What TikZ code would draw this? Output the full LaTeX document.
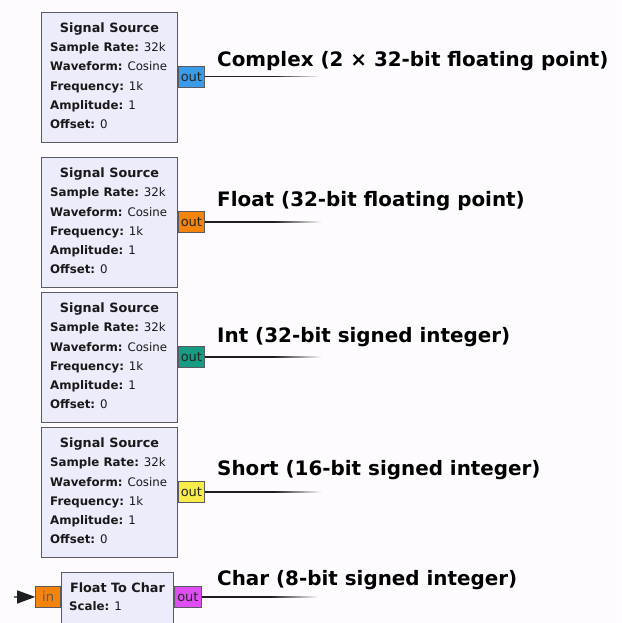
\documentclass[tikz,border=0pt]{standalone}
\usepackage{fontspec}
\setmainfont{DejaVu Sans}
\usetikzlibrary{arrows.meta}

\definecolor{bgc}{HTML}{FDFBFE}
\definecolor{blkfill}{HTML}{ECECFA}
\definecolor{blkedge}{HTML}{5A5A60}
\definecolor{cplx}{HTML}{3A9BE8}
\definecolor{flt}{HTML}{F5840C}
\definecolor{intc}{HTML}{179C84}
\definecolor{shrt}{HTML}{F7EC4A}
\definecolor{chr}{HTML}{DF4EF3}
\definecolor{wire}{HTML}{1E1E22}

\tikzset{
  blk/.style={draw=blkedge, fill=blkfill, line width=1pt, rectangle, inner sep=0pt},
  ttl/.style={anchor=base, inner sep=0pt, font=\fontsize{12.8}{14}\selectfont\bfseries, text=black!90},
  prm/.style={anchor=base west, inner sep=0pt, font=\fontsize{11.8}{13}\selectfont, text=black!90},
  port/.style={draw=blkedge, line width=0.8pt, rectangle, inner sep=0pt,
    minimum width=26pt, minimum height=21pt, font=\fontsize{13}{14}\selectfont, text=black!85},
  lbl/.style={anchor=base west, inner sep=0pt, font=\fontsize{19.9}{22}\selectfont\bfseries, text=black},
  wireline/.style={draw=wire, line width=1.2pt},
}

% Output wire: solid from the port, then fading out in short steps
\newcommand\fadewire[1]{% #1 port node
  \coordinate (#1m) at ([xshift=68pt]#1.east);
  \draw[wireline] (#1.east) -- (#1m);
  \foreach \k in {0,...,19}{
    \pgfmathsetmacro\shadeamt{100-5*\k}
    \draw[line width=1.2pt, draw=wire!\shadeamt!bgc]
      ([xshift=2.4*\k pt]#1m) -- ([xshift=2.4*\k pt+2.5pt]#1m);
  }
}

% A "Signal Source" block with its output port
\newcommand\sigsrcblock[3]{% #1 name, #2 top y, #3 port colour
  \node[blk, minimum width=136pt, minimum height=130pt, anchor=north west] (#1) at (41,#2) {};
  \node[ttl] (#1t) at ([yshift=-20.5pt]#1.north) {Signal Source};
  \node[prm] (#1a) at ([xshift=9pt,yshift=-39.8pt]#1.north west) {\textbf{Sample Rate:} 32k};
  \node[prm] (#1b) at ([xshift=9pt,yshift=-59pt]#1.north west) {\textbf{Waveform:} Cosine};
  \node[prm] (#1c) at ([xshift=9pt,yshift=-78.2pt]#1.north west) {\textbf{Frequency:} 1k};
  \node[prm] (#1d) at ([xshift=9pt,yshift=-97.4pt]#1.north west) {\textbf{Amplitude:} 1};
  \node[prm] (#1e) at ([xshift=9pt,yshift=-116.6pt]#1.north west) {\textbf{Offset:} 0};
  \node[port, fill=#3, anchor=north west] (#1o) at ([yshift=-54pt]#1.north east) {out};
  \fadewire{#1o}
}

\begin{document}
\begin{tikzpicture}[x=1pt, y=-1pt]
  \path[use as bounding box, fill=bgc] (0,0) rectangle (621,623);

  \sigsrcblock{s1}{12}{cplx}
  \sigsrcblock{s2}{157}{flt}
  \sigsrcblock{s3}{292}{intc}
  \sigsrcblock{s4}{427}{shrt}

  % wire type captions
  \node[lbl] (l1) at (217,67) {Complex (2 × 32-bit floating point)};
  \node[lbl] (l2) at (217,206) {Float (32-bit floating point)};
  \node[lbl] (l3) at (217,342) {Int (32-bit signed integer)};
  \node[lbl] (l4) at (217,475) {Short (16-bit signed integer)};
  \node[lbl] (l5) at (217,585) {Char (8-bit signed integer)};

  % Float To Char converter
  \node[blk, minimum width=112pt, minimum height=51pt, anchor=north west] (fc) at (61,572) {};
  \node[ttl] (fct) at ([yshift=-20pt]fc.north) {Float To Char};
  \node[prm] (fca) at ([xshift=8pt,yshift=-38.5pt]fc.north west) {\textbf{Scale:} 1};
  \node[port, fill=flt, minimum width=25pt, anchor=north east, text=black!65] (fci) at ([yshift=-14pt]fc.north west) {in};
  \node[port, fill=chr, minimum width=27pt, anchor=north west] (fco) at ([yshift=-14pt]fc.north east) {out};
  \coordinate (fcsrc) at (14,597);
  \draw[wireline, -{Triangle[length=18pt, width=13pt]}] (fcsrc) -- (fci.west);
  \fadewire{fco}
\end{tikzpicture}
\end{document}
